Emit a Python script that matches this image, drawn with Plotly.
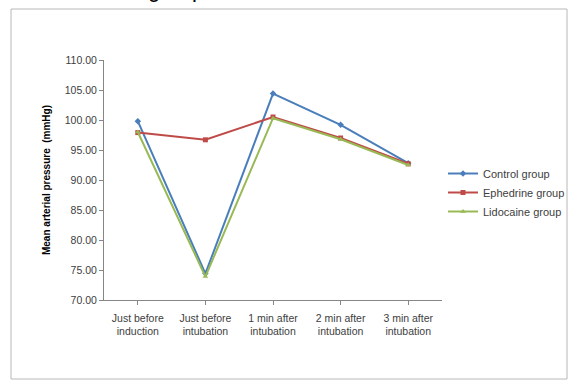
import plotly.graph_objects as go

categories = ["Just before<br>induction", "Just before<br>intubation", "1 min after<br>intubation",
              "2 min after<br>intubation", "3 min after<br>intubation"]
control = [99.8, 74.4, 104.4, 99.2, 92.8]
ephedrine = [97.9, 96.7, 100.5, 97.0, 92.7]
lidocaine = [98.0, 73.9, 100.3, 96.8, 92.5]
y_ticks = [70, 75, 80, 85, 90, 95, 100, 105, 110]

series = [
    ("Control group", control, "#4A7EBB", "diamond"),
    ("Ephedrine group", ephedrine, "#BE4B48", "square"),
    ("Lidocaine group", lidocaine, "#98B954", "triangle-up"),
]

fig = go.Figure()
for name, vals, col, sym in series:
    fig.add_trace(go.Scatter(
        x=list(range(len(categories))), y=vals, name=name, mode="lines+markers",
        line=dict(color=col, width=2),
        marker=dict(symbol=sym, size=5, color=col),
    ))

L, R, T, B = 104, 128, 60, 80
W, H = 570, 380
pw, ph = W - L - R, H - T - B

def px(x):
    return (x - L) / pw

def py(y):
    return (H - B - y) / ph

fig.update_layout(
    width=W, height=H,
    margin=dict(l=L, r=R, t=T, b=B, autoexpand=False),
    paper_bgcolor="white", plot_bgcolor="white",
    font=dict(family="Liberation Sans, Arial, sans-serif", size=10.5, color="#404040"),
    showlegend=True,
    legend=dict(x=px(443), y=py(159), xanchor="left", yanchor="top",
                xref="paper", yref="paper", tracegroupgap=0,
                font=dict(size=11, color="#404040"), bgcolor="rgba(0,0,0,0)",
                itemwidth=30),
    xaxis=dict(
        tickmode="array", tickvals=list(range(len(categories))), ticktext=categories,
        range=[-0.5, len(categories) - 0.5], showgrid=False, zeroline=False,
        showline=True, linecolor="#868686", linewidth=1,
        ticks="outside", ticklen=4, tickcolor="#868686", tickson="boundaries",
        tickfont=dict(size=10.5, color="#404040"), ticklabelstandoff=4,
    ),
    yaxis=dict(
        range=[70, 110], tickvals=y_ticks, ticktext=[f"{v:.2f}" for v in y_ticks],
        showgrid=False, zeroline=False,
        showline=True, linecolor="#868686", linewidth=1,
        ticks="outside", ticklen=4, tickcolor="#868686",
        tickfont=dict(size=10.5, color="#404040"),
        title=dict(text="<b>Mean arterial pressure  (mmHg)</b>",
                   font=dict(size=10, color="#000000"), standoff=12),
    ),
    shapes=[dict(type="rect", xref="paper", yref="paper",
                 x0=px(11), x1=px(567), y0=py(379), y1=py(9),
                 line=dict(color="#B8B8B8", width=1), fillcolor="rgba(0,0,0,0)")],
    annotations=[dict(text="group", xref="paper", yref="paper",
                      x=px(146), y=py(3.5), xanchor="left", yanchor="bottom",
                      showarrow=False, font=dict(size=22, color="#000000"))],
)

fig.write_html("out.html", config={"displayModeBar": False},
               post_script="document.body.style.margin='0';")
